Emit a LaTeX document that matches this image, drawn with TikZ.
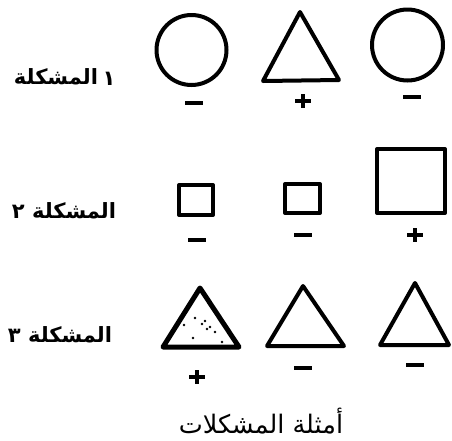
\documentclass[tikz,border=0pt]{standalone}
\usepackage{fontspec}
\newfontfamily\arabicfont[Script=Arabic]{DejaVu Sans}
\TeXXeTstate=1
\usetikzlibrary{calc}
\tikzset{
  shapeline/.style={draw=black, line width=4pt, line join=round},
  signline/.style={draw=black, line width=3.8pt},
  lbl/.style={font=\arabicfont\bfseries\fontsize{21}{26}\selectfont, inner sep=0pt},
  caplbl/.style={font=\arabicfont\fontsize{25.5}{30}\selectfont, inner sep=0pt},
}
\newcommand{\plussign}[1]{\draw[signline] ($(#1)+(-8,0)$) -- ($(#1)+(8,0)$); \draw[signline] ($(#1)+(0,-7)$) -- ($(#1)+(0,7)$);}
\newcommand{\minussign}[1]{\draw[signline] ($(#1)+(-9,0)$) -- ($(#1)+(9,0)$);}
\begin{document}
\begin{tikzpicture}[x=1pt,y=-1pt]
\useasboundingbox (0,0) rectangle (452,440);
% row 1
\draw[shapeline] (191.5,50) circle (35);
\draw[shapeline] (300,12) -- (263,81) -- (339,80) -- cycle;
\draw[shapeline] (407.5,45) circle (35.5);
\minussign{194,103}
\plussign{303,101}
\minussign{412,97}
\node[lbl] (l1) at (56,77) {\beginR المشكلة\endR};
\node[lbl] (n1) at (109,79) {\beginR ١\endR};
% row 2
\draw[shapeline] (179,185) rectangle (213,215);
\draw[shapeline] (285,184) rectangle (320,213);
\draw[shapeline] (377,149) rectangle (445,213);
\minussign{197,240}
\minussign{303,235}
\plussign{415,235}
\node[lbl] (l2) at (64,211) {\beginR المشكلة ٢\endR};
% row 3
\draw[shapeline, line width=5pt] (200,288) -- (163,347) -- (239,347) -- cycle;
\foreach \p in {(195,318),(184,325),(202,324),(207,329),(205,321),(215,332),(193,338),(210,327),(222,342)}
  \fill \p circle (1.4);
\draw[shapeline] (303,286) -- (267,346) -- (344,346) -- cycle;
\draw[shapeline] (415,283) -- (380,345) -- (449,345) -- cycle;
\plussign{197,377}
\minussign{303,368}
\minussign{415,365}
\node[lbl] (l3) at (60,335) {\beginR المشكلة ٣\endR};
% caption
\node[caplbl] (cap) at (261,421) {\beginR أمثلة المشكلات\endR};
\end{tikzpicture}
\end{document}
